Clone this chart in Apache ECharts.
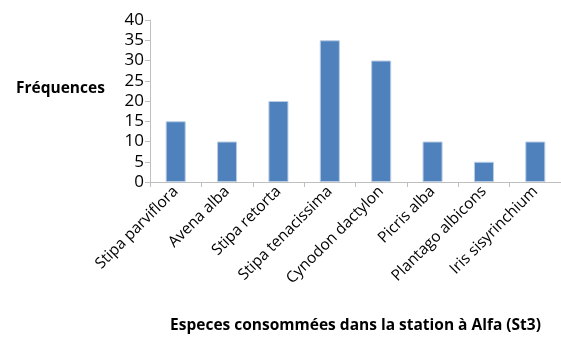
<!DOCTYPE html>
<html><head><meta charset="utf-8">
<script src="https://cdn.jsdelivr.net/npm/echarts@6/dist/echarts.min.js"></script>
<style>html,body{margin:0;padding:0;background:#fff}#c{width:561px;height:338px}</style>
</head><body><div id="c"></div>
<script>
const categories = ["Stipa parviflora","Avena alba","Stipa retorta","Stipa tenacissima","Cynodon dactylon","Picris alba","Plantago albicons","Iris sisyrinchium"];
const values = [15,10,20,35,30,10,5,10];
const yTitle = "Fréquences";
const xTitle = "Especes consommées dans la station à Alfa (St3)";
const font = "'Open Sans', sans-serif";
const chart = echarts.init(document.getElementById('c'));
chart.setOption({
  animation:false,
  grid:{left:150,right:0,top:20,bottom:156,containLabel:false,outerBoundsMode:'none'},
  graphic:[{type:'text',left:16,top:81,style:{text:yTitle,font:"bold 15.5px "+font,fill:'#000'}}],
  xAxis:{type:'category',data:categories,
    name:xTitle,nameLocation:'middle',nameGap:136,
    nameTextStyle:{fontFamily:font,fontWeight:'bold',fontSize:15.5,color:'#000'},
    axisLine:{lineStyle:{color:'#BFBFBF',width:1}},
    axisTick:{show:true,alignWithLabel:false,length:5,lineStyle:{color:'#BFBFBF'}},
    axisLabel:{rotate:45,interval:0,fontFamily:font,fontSize:15.5,color:'#000',margin:7}},
  yAxis:{type:'value',min:0,max:40,interval:5,
    axisLine:{show:true,lineStyle:{color:'#BFBFBF'}},
    axisTick:{show:true,length:5,lineStyle:{color:'#BFBFBF'}},
    splitLine:{show:false},
    axisLabel:{fontFamily:font,fontSize:17,color:'#000',margin:6}},
  series:[{type:'bar',data:values,barWidth:'39%',
    itemStyle:{color:'#4F81BD',borderColor:'#B9CDE5',borderWidth:1}}]
});
</script></body></html>
